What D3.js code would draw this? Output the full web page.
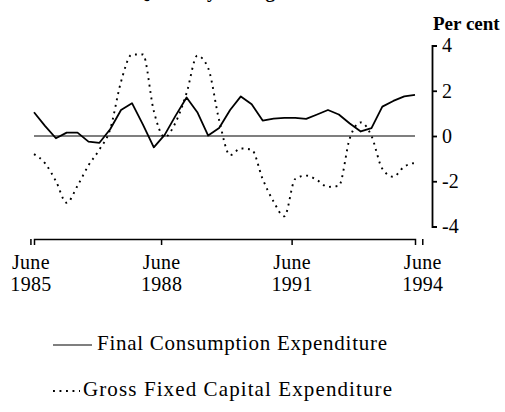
<!DOCTYPE html>
<html>
<head>
<meta charset="utf-8">
<script src="https://cdn.jsdelivr.net/npm/d3@7"></script>
<style>
  body { margin: 0; background: #fff; }
  svg { display: block; }
  text { font-family: "Liberation Serif", "Times New Roman", serif; fill: #000; }
</style>
</head>
<body>
<div id="chart"></div>
<script>
// quarters June 1985 .. June 1994
const quarters = d3.timeMonth.every(3).range(new Date(1985, 5, 1), new Date(1994, 6, 1));

// Final Consumption Expenditure, per cent change
const consumption = [
    1.05, 0.45, -0.1, 0.15, 0.15, -0.25, -0.3, 0.3, 1.15, 1.45,
    0.5, -0.5, 0.05, 0.9, 1.7, 1.05, 0.02, 0.35, 1.15, 1.75,
    1.4, 0.68, 0.77, 0.8, 0.8, 0.76, 0.95, 1.15, 0.95, 0.55,
    0.2, 0.35, 1.3, 1.55, 1.75, 1.82, 1.8
];
// Gross Fixed Capital Expenditure, per cent change
const capital = [
    -0.8, -1.2, -2.0, -2.95, -2.2, -1.3, -0.6, 0.3, 2.4, 3.6,
    3.6, 1.1, -0.05, 0.6, 1.9, 3.55, 3.0, 0.7, -0.85, -0.55,
    -0.6, -1.9, -2.9, -3.55, -1.9, -1.75, -1.95, -2.25, -2.2, -0.1,
    0.6, 0.0, -1.45, -1.8, -1.35, -1.2, -1.2
];

const yTicks = [-4, -2, 0, 2, 4];
const xTickDates = [new Date(1985, 5, 1), new Date(1988, 5, 1), new Date(1991, 5, 1), new Date(1994, 5, 1)];
const xTickMonth = "June";
const legendLabels = ["Final Consumption Expenditure", "Gross Fixed Capital Expenditure"];

const width = 505, height = 412;

const svg = d3.select("#chart").append("svg")
    .attr("width", width)
    .attr("height", height);

const x = d3.scaleTime()
    .domain([quarters[0], quarters[quarters.length - 1]])
    .range([34, 415]);

const y = d3.scaleLinear()
    .domain([-4, 4])
    .range([226.5, 45.5]);

// title, cut off at the top edge as in the scan
svg.append("text")
    .attr("x", 213)
    .attr("y", -2)
    .attr("text-anchor", "middle")
    .style("font-size", "19px")
    .style("font-weight", "bold")
    .text("Quarterly Changes");

// zero line
svg.append("line")
    .attr("x1", x.range()[0])
    .attr("x2", x.range()[1])
    .attr("y1", y(0))
    .attr("y2", y(0))
    .attr("stroke", "#000")
    .attr("stroke-width", 1.2);

const line = d3.line()
    .x((d, i) => x(quarters[i]))
    .y(d => y(d));

svg.append("path")
    .datum(capital)
    .attr("fill", "none")
    .attr("stroke", "#000")
    .attr("stroke-width", 1.9)
    .attr("stroke-dasharray", "1.9,4.6")
    .attr("d", line.curve(d3.curveMonotoneX));

svg.append("path")
    .datum(consumption)
    .attr("fill", "none")
    .attr("stroke", "#000")
    .attr("stroke-width", 1.8)
    .attr("stroke-linejoin", "round")
    .attr("d", line.curve(d3.curveLinear));

// right axis
const yAxis = svg.append("g")
    .attr("transform", "translate(432,0)")
    .call(d3.axisRight(y).tickValues(yTicks).tickSize(5).tickPadding(5)
        .tickFormat(d => d < 0 ? "-" + Math.abs(d) : d));
yAxis.selectAll("path, line").attr("stroke", "#000").attr("stroke-width", 1.8);
yAxis.selectAll("text")
    .attr("font-family", null)
    .style("font-size", "20px");

svg.append("text")
    .attr("x", 433)
    .attr("y", 30)
    .style("font-size", "19px")
    .style("font-weight", "bold")
    .text("Per cent");

// bottom axis
const xAxis = svg.append("g")
    .attr("transform", "translate(0,239)")
    .call(d3.axisBottom(x).tickValues(xTickDates).tickSize(6).tickFormat(""));
xAxis.selectAll("path, line").attr("stroke", "#000").attr("stroke-width", 1.5);

const lab = xAxis.selectAll(".tick").append("text")
    .attr("text-anchor", "middle")
    .attr("font-family", null)
    .style("font-size", "20px")
    .style("letter-spacing", "0.3px");
lab.append("tspan").attr("x", 0).attr("y", 30).text(xTickMonth);
lab.append("tspan").attr("x", 0).attr("y", 52).text(d => d.getFullYear());

// legend
const legend = svg.append("g");
const legendRows = [
    { y: 345, dash: null, x2: 92, tx: 97, len: 290 },
    { y: 391, dash: "1.9,4.6", x2: 80, tx: 83, len: 309 }
];
legendRows.forEach((r, i) => {
    legend.append("line")
        .attr("x1", 53).attr("x2", r.x2)
        .attr("y1", r.y).attr("y2", r.y)
        .attr("stroke", "#000")
        .attr("stroke-width", r.dash ? 1.9 : 1.1)
        .attr("stroke-dasharray", r.dash);
    legend.append("text")
        .attr("x", r.tx)
        .attr("y", r.y + 5)
        .attr("textLength", r.len)
        .attr("lengthAdjust", "spacing")
        .style("font-size", "21px")
        .text(legendLabels[i]);
});
</script>
</body>
</html>
